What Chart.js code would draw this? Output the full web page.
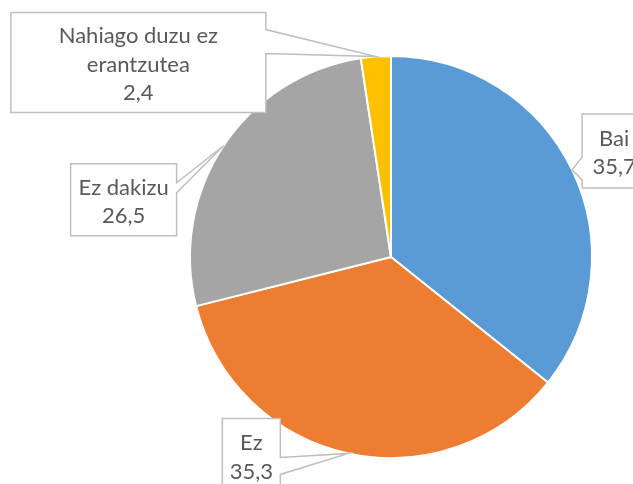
<!DOCTYPE html>
<html>
<head>
<meta charset="utf-8">
<script src="https://cdn.jsdelivr.net/npm/chart.js@4.4.1/dist/chart.umd.min.js"></script>
<style>
  html, body { margin: 0; padding: 0; background: #fff; }
  #wrap { position: relative; width: 633px; height: 484px; overflow: hidden; }
</style>
</head>
<body>
<div id="wrap"><canvas id="pie" width="633" height="484"></canvas></div>
<script>
const categories = ['Bai', 'Ez', 'Ez dakizu', ['Nahiago duzu ez', 'erantzutea']];
const values = [35.7, 35.3, 26.5, 2.4];
const sliceColors = ['#5B9BD5', '#ED7D31', '#A5A5A5', '#FFC000'];

// callout boxes, offsets from the point on the slice edge
const callouts = [
  { dx: 10, dy: -56, w: 64, h: 74, side: 'left', notch: [43, 66] },
  { dx: -126, dy: -35, w: 58, h: 74, side: 'right', notch: [39, 56] },
  { dx: -153, dy: 18, w: 106, h: 72, side: 'right', notch: [19, 29] },
  { dx: -365, dy: -44, w: 255, h: 100, side: 'right', notch: [17, 41] },
];

const fmt = v => v.toFixed(1).replace('.', ',');

const calloutPlugin = {
  id: 'callouts',
  afterDraw(chart) {
    const ctx = chart.ctx;
    const meta = chart.getDatasetMeta(0);
    meta.data.forEach((arc, i) => {
      const c = callouts[i];
      const p = arc.getProps(['x', 'y', 'startAngle', 'endAngle', 'outerRadius'], true);
      const mid = (p.startAngle + p.endAngle) / 2;
      const tx = p.x + Math.cos(mid) * p.outerRadius;
      const ty = p.y + Math.sin(mid) * p.outerRadius;
      const bx = tx + c.dx, by = ty + c.dy;

      ctx.save();
      ctx.beginPath();
      ctx.moveTo(bx, by);
      ctx.lineTo(bx + c.w, by);
      if (c.side === 'right') {
        ctx.lineTo(bx + c.w, by + c.notch[0]);
        ctx.lineTo(tx, ty);
        ctx.lineTo(bx + c.w, by + c.notch[1]);
      }
      ctx.lineTo(bx + c.w, by + c.h);
      ctx.lineTo(bx, by + c.h);
      if (c.side === 'left') {
        ctx.lineTo(bx, by + c.notch[1]);
        ctx.lineTo(tx, ty);
        ctx.lineTo(bx, by + c.notch[0]);
      }
      ctx.closePath();
      ctx.fillStyle = '#ffffff';
      ctx.fill();
      ctx.strokeStyle = '#BFBFBF';
      ctx.lineWidth = 1.5;
      ctx.stroke();

      const lines = [].concat(categories[i], fmt(values[i]));
      const lh = 28.5;
      ctx.font = '22px Lato, sans-serif';
      ctx.fillStyle = '#595959';
      ctx.textAlign = 'center';
      ctx.textBaseline = 'middle';
      const cy = by + c.h / 2 - (lines.length - 1) * lh / 2 + 2;
      lines.forEach((t, k) => ctx.fillText(t, bx + c.w / 2, cy + k * lh));
      ctx.restore();
    });
  }
};

new Chart(document.getElementById('pie'), {
  type: 'pie',
  data: {
    labels: categories,
    datasets: [{
      data: values,
      backgroundColor: sliceColors,
      borderColor: '#ffffff',
      borderWidth: 2
    }]
  },
  options: {
    responsive: false,
    animation: false,
    layout: { padding: { top: 55, bottom: 25, left: 189, right: 40 } },
    plugins: {
      legend: { display: false },
      tooltip: { enabled: false }
    }
  },
  plugins: [calloutPlugin]
});
</script>
</body>
</html>
